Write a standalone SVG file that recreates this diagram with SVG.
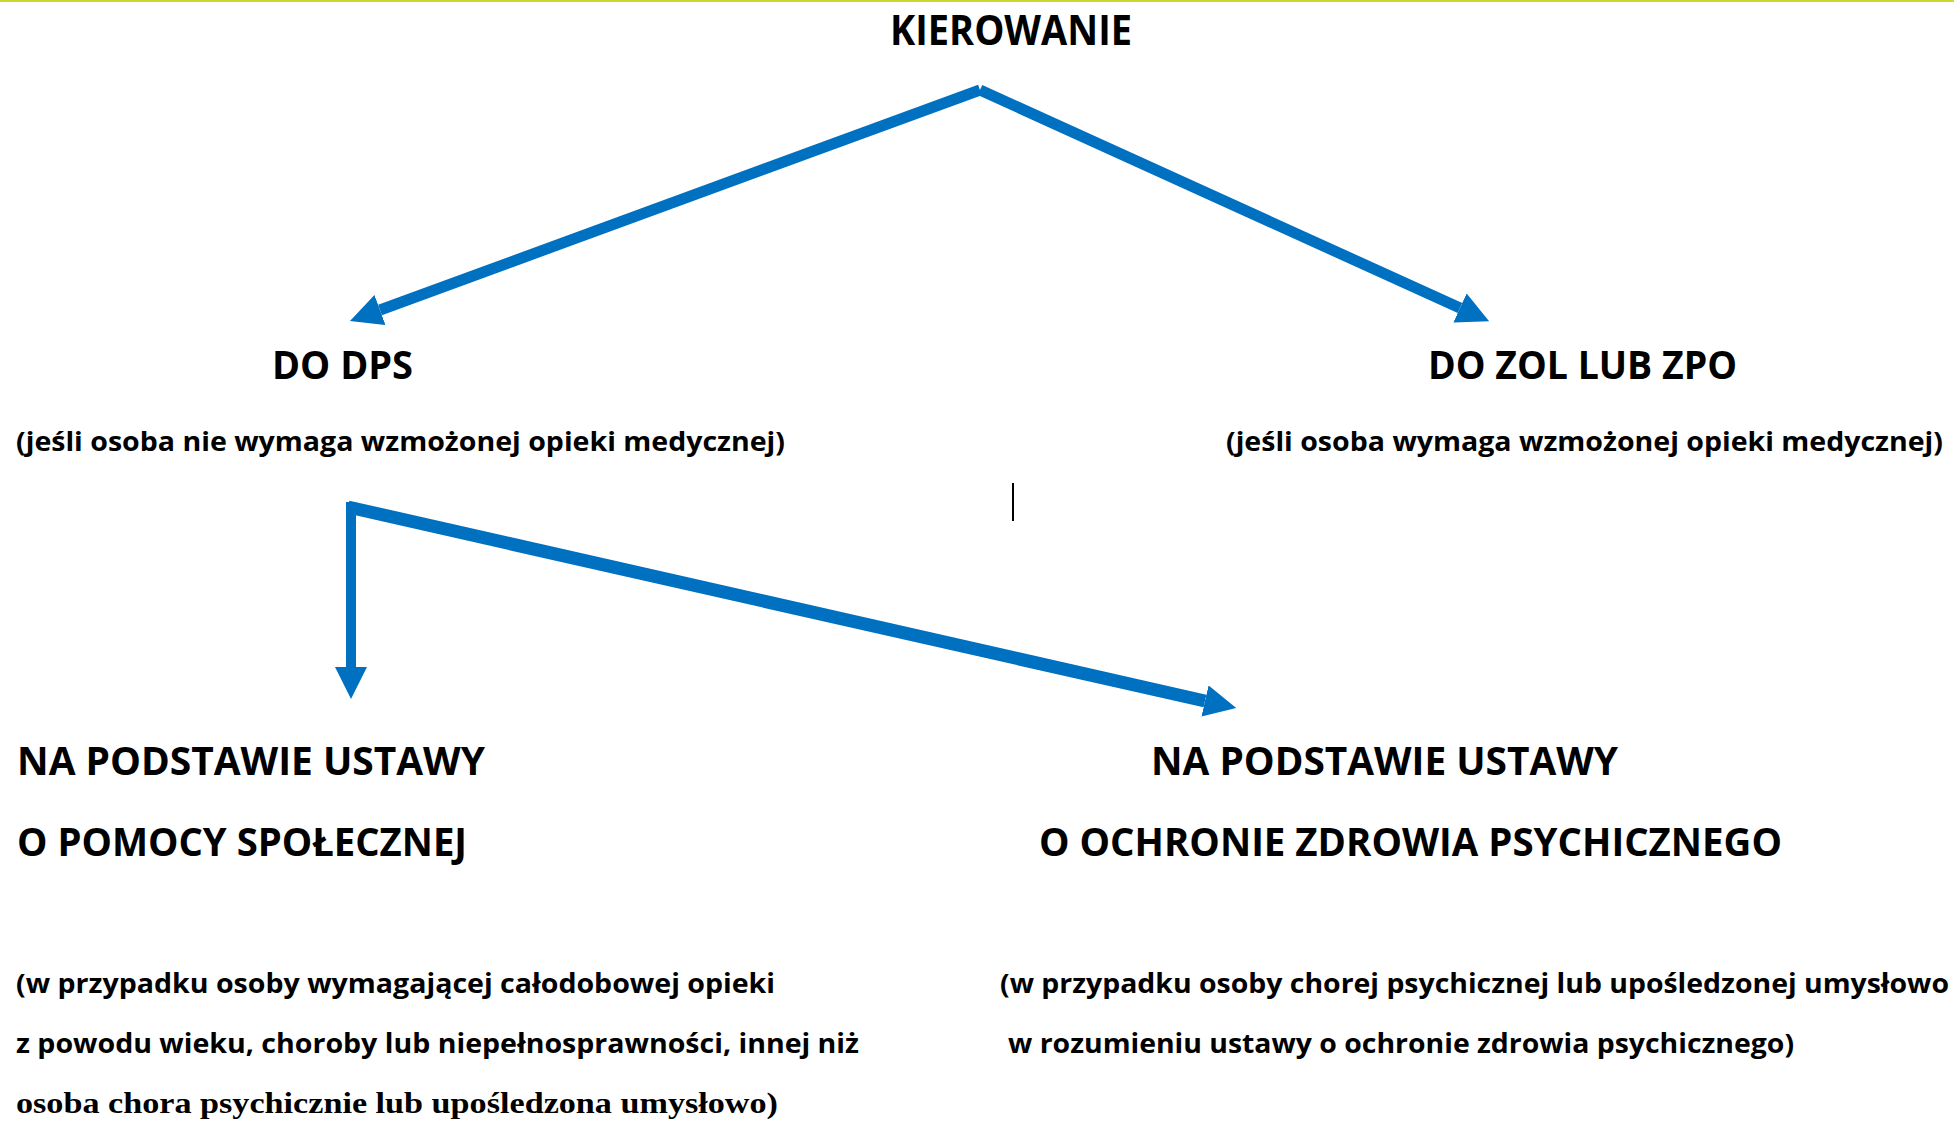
<svg xmlns="http://www.w3.org/2000/svg" width="1954" height="1122" viewBox="0 0 1954 1122">
  <style>
    .h { font-family: "Open Sans", "Liberation Sans", sans-serif; font-weight: 700; fill: #000; }
    .h1 { font-size: 42px; }
    .h2 { font-size: 40px; }
    .s { font-size: 27px; }
    .p { font-size: 26px; }
    .serif { font-family: "Liberation Serif", serif; font-weight: 700; font-size: 30px; fill: #000; }
    .conn { stroke: #0070C0; fill: none; stroke-linecap: butt; }
  </style>
  <defs>
    <marker id="ah" markerUnits="userSpaceOnUse" viewBox="0 0 32 32" refX="0" refY="16" markerWidth="32" markerHeight="32" orient="auto">
      <path d="M0,0 L32,16 L0,32 Z" fill="#0070C0"/>
    </marker>
  </defs>
  <rect x="0" y="0" width="1954" height="1122" fill="#ffffff"/>
  <rect x="0" y="0" width="1954" height="2" fill="#cbd62e"/>

  <g id="connectors">
    <line class="conn" x1="980" y1="90" x2="380" y2="310" stroke-width="11" marker-end="url(#ah)"/>
    <line class="conn" x1="980" y1="90" x2="1460" y2="308" stroke-width="11" marker-end="url(#ah)"/>
    <line class="conn" x1="351" y1="502" x2="351" y2="667" stroke-width="10" marker-end="url(#ah)"/>
    <line class="conn" x1="348" y1="507" x2="1205" y2="701" stroke-width="13" marker-end="url(#ah)"/>
    <line x1="1013" y1="483" x2="1013" y2="521" stroke="#000" stroke-width="2"/>
  </g>

  <g id="kierowanie">
    <text class="h h1" x="890" y="45" textLength="242" lengthAdjust="spacingAndGlyphs">KIEROWANIE</text>
  </g>
  <g id="do-dps">
    <text class="h h2" x="272" y="379" textLength="141" lengthAdjust="spacingAndGlyphs">DO DPS</text>
    <text class="h s" x="16" y="451" textLength="769" lengthAdjust="spacingAndGlyphs">(jeśli osoba nie wymaga wzmożonej opieki medycznej)</text>
  </g>
  <g id="do-zol">
    <text class="h h2" x="1428" y="379" textLength="309" lengthAdjust="spacingAndGlyphs">DO ZOL LUB ZPO</text>
    <text class="h s" x="1226" y="451" textLength="717" lengthAdjust="spacingAndGlyphs">(jeśli osoba wymaga wzmożonej opieki medycznej)</text>
  </g>
  <g id="ustawa-pomoc">
    <text class="h h2" x="17" y="775" textLength="468" lengthAdjust="spacingAndGlyphs">NA PODSTAWIE USTAWY</text>
    <text class="h h2" x="17" y="856" textLength="450" lengthAdjust="spacingAndGlyphs">O POMOCY SPOŁECZNEJ</text>
    <text class="h p" x="16" y="993" textLength="759" lengthAdjust="spacingAndGlyphs">(w przypadku osoby wymagającej całodobowej opieki</text>
    <text class="h p" x="16" y="1053" textLength="843" lengthAdjust="spacingAndGlyphs">z powodu wieku, choroby lub niepełnosprawności, innej niż</text>
    <text class="serif" x="16" y="1113" textLength="762" lengthAdjust="spacingAndGlyphs">osoba chora psychicznie lub upośledzona umysłowo)</text>
  </g>
  <g id="ustawa-zdrowie">
    <text class="h h2" x="1151" y="775" textLength="467" lengthAdjust="spacingAndGlyphs">NA PODSTAWIE USTAWY</text>
    <text class="h h2" x="1039" y="856" textLength="743" lengthAdjust="spacingAndGlyphs">O OCHRONIE ZDROWIA PSYCHICZNEGO</text>
    <text class="h p" x="1000" y="993" textLength="949" lengthAdjust="spacingAndGlyphs">(w przypadku osoby chorej psychicznej lub upośledzonej umysłowo</text>
    <text class="h p" x="1008" y="1053" textLength="786" lengthAdjust="spacingAndGlyphs">w rozumieniu ustawy o ochronie zdrowia psychicznego)</text>
  </g>
</svg>
